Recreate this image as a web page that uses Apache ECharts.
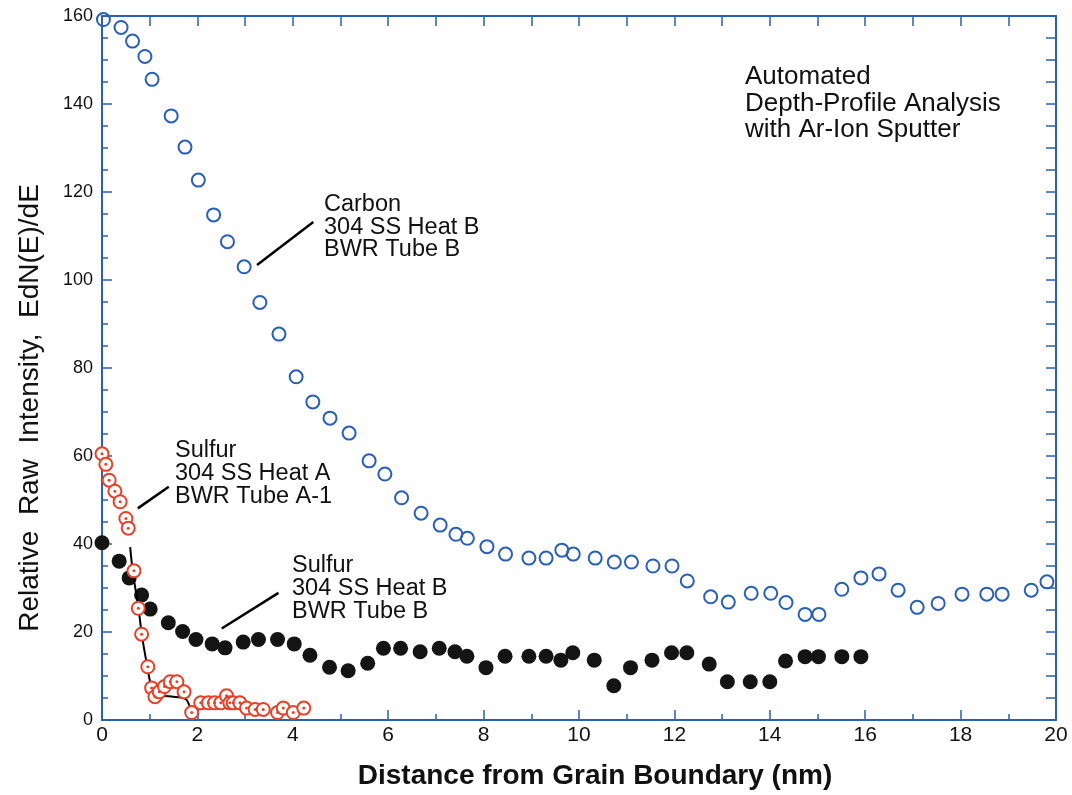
<!DOCTYPE html>
<html>
<head>
<meta charset="utf-8">
<title>Depth-Profile Analysis</title>
<script src="https://cdn.jsdelivr.net/npm/echarts@6/dist/echarts.min.js"></script>
<style>
    * { margin: 0; padding: 0; }
    #main { width: 1072px; height: 795px; background: #fff; }
</style>
</head>
<body>
<div id="main"></div>
<script type="text/javascript">
    // Carbon, 304 SS Heat B, BWR Tube B (open blue circles)
    var carbonX = [0.03, 0.40, 0.64, 0.90, 1.05, 1.45, 1.74, 2.02, 2.34, 2.63, 2.98, 3.31, 3.71, 4.07, 4.42,
        4.78, 5.18, 5.60, 5.93, 6.28, 6.69, 7.09, 7.42, 7.66, 8.07, 8.46, 8.95, 9.31, 9.64, 9.88,
        10.34, 10.74, 11.10, 11.55, 11.95, 12.27, 12.76, 13.13, 13.61, 14.02, 14.34, 14.74, 15.03, 15.51, 15.91,
        16.29, 16.69, 17.09, 17.53, 18.03, 18.55, 18.87, 19.48, 19.81];
    var carbonY = [159.2, 157.4, 154.3, 150.8, 145.6, 137.3, 130.2, 122.7, 114.8, 108.7, 103, 94.9, 87.7, 78, 72.3,
        68.6, 65.2, 58.9, 55.9, 50.5, 47, 44.3, 42.2, 41.3, 39.4, 37.7, 36.8, 36.8, 38.6, 37.7,
        36.8, 35.9, 35.9, 35, 35, 31.6, 28, 26.8, 28.8, 28.8, 26.7, 24, 24, 29.7, 32.3,
        33.2, 29.5, 25.6, 26.5, 28.6, 28.6, 28.6, 29.5, 31.4];

    // Sulfur, 304 SS Heat B, BWR Tube B (filled black dots)
    var sulfurBX = [0.0, 0.36, 0.57, 0.83, 1.01, 1.39, 1.69, 1.97, 2.31, 2.58, 2.96, 3.28, 3.68, 4.03, 4.36,
        4.77, 5.16, 5.57, 5.90, 6.26, 6.67, 7.07, 7.40, 7.65, 8.05, 8.45, 8.95, 9.31, 9.62, 9.87,
        10.32, 10.73, 11.08, 11.53, 11.94, 12.26, 12.73, 13.11, 13.59, 14.0, 14.33, 14.74, 15.02, 15.51, 15.91];
    var sulfurBY = [40.3, 36.1, 32.3, 28.4, 25.2, 22.1, 20.1, 18.3, 17.3, 16.4, 17.7, 18.3, 18.3, 17.3, 14.7,
        12, 11.2, 12.9, 16.3, 16.3, 15.5, 16.3, 15.5, 14.5, 11.9, 14.5, 14.5, 14.5, 13.6, 15.3,
        13.6, 7.8, 11.9, 13.6, 15.3, 15.3, 12.7, 8.7, 8.7, 8.7, 13.4, 14.4, 14.4, 14.4, 14.4];

    // Sulfur, 304 SS Heat A, BWR Tube A-1 (red dotted circles)
    var sulfurAX = [0.0, 0.08, 0.15, 0.27, 0.38, 0.5, 0.55, 0.67, 0.76, 0.83, 0.96, 1.04, 1.11, 1.2, 1.31,
        1.43, 1.57, 1.72, 1.88, 2.07, 2.23, 2.36, 2.49, 2.61, 2.68, 2.75, 2.89, 3.03, 3.21, 3.38,
        3.68, 3.8, 4.01, 4.23];
    var sulfurAY = [60.5, 58.1, 54.5, 52, 49.6, 45.8, 43.6, 33.9, 25.4, 19.5, 12.1, 7.3, 5.3, 6.4, 7.6,
        8.7, 8.7, 6.4, 1.7, 3.9, 3.9, 3.9, 3.9, 5.5, 3.9, 3.9, 3.9, 2.7, 2.4, 2.4,
        1.7, 2.7, 1.7, 2.7];

    // hand drawn curve through the Heat A sulfur drop
    var fitX = [0.59, 0.65, 0.76, 0.84, 0.95, 1.02, 1.15, 1.4, 1.7, 1.78, 1.88];
    var fitY = [39.3, 33.3, 25.8, 19, 12.1, 8.3, 5.6, 5.4, 5, 4.5, 1.9];

    // label leader lines (from, to)
    var leaderCarbon = [[3.25, 103.4], [4.43, 113.2]];
    var leaderSulfurA = [[0.75, 48.1], [1.40, 53]];
    var leaderSulfurB = [[2.51, 20.8], [3.70, 28.9]];

    var xTicks = [0, 2, 4, 6, 8, 10, 12, 14, 16, 18, 20];
    var yTicks = [0, 20, 40, 60, 80, 100, 120, 140, 160];

    function pairs(xs, ys) {
        return xs.map(function (x, i) { return [x, ys[i]]; });
    }

    var blue = '#2b60b4';
    var font = "'Liberation Sans', Arial, Helvetica, sans-serif";
    var tickStyle = { color: blue, width: 1.5 };

    var myChart = echarts.init(document.getElementById('main'));

    function leader(pts) {
        return {
            type: 'line', data: pts, symbol: 'none', silent: true, z: 7,
            lineStyle: { color: '#000', width: 2.5 }
        };
    }

    option = {
        backgroundColor: '#fff',
        animation: false,
        grid: { left: 102, right: 16, top: 16, bottom: 75 },
        xAxis: [{
            type: 'value', position: 'bottom', min: xTicks[0], max: xTicks[xTicks.length - 1], interval: 2,
            axisLine: { onZero: false, lineStyle: { color: blue, width: 2 } },
            axisTick: { inside: true, length: 10, lineStyle: tickStyle },
            minorTick: { show: true, splitNumber: 2, length: 6, lineStyle: tickStyle },
            splitLine: { show: false },
            axisLabel: { color: '#111', fontSize: 21, fontFamily: font, margin: 5 }
        }, {
            type: 'value', position: 'top', min: 0, max: 20, interval: 1,
            axisLine: { onZero: false, lineStyle: { color: blue, width: 2 } },
            axisTick: { inside: true, length: 10, lineStyle: tickStyle },
            splitLine: { show: false },
            axisLabel: { show: false }
        }],
        yAxis: [{
            type: 'value', position: 'left', min: yTicks[0], max: yTicks[yTicks.length - 1], interval: 20,
            axisLine: { show: true, onZero: false, lineStyle: { color: blue, width: 2 } },
            axisTick: { show: true, inside: true, length: 10, lineStyle: tickStyle },
            minorTick: { show: true, splitNumber: 4, length: 6, lineStyle: tickStyle },
            splitLine: { show: false },
            axisLabel: { color: '#111', fontSize: 18, fontFamily: font, margin: 9 }
        }, {
            type: 'value', position: 'right', min: 0, max: 160, interval: 5,
            axisLine: { show: true, onZero: false, lineStyle: { color: blue, width: 2 } },
            axisTick: { show: true, inside: true, length: 10, lineStyle: tickStyle },
            splitLine: { show: false },
            axisLabel: { show: false }
        }],
        graphic: [
            {
                type: 'text', left: 745, top: 64,
                style: { text: 'Automated\nDepth-Profile Analysis\nwith Ar-Ion Sputter', fill: '#111',
                    font: '26px ' + font, lineHeight: 26.5 }
            },
            {
                type: 'text', left: 324, top: 193,
                style: { text: 'Carbon\n304 SS Heat B\nBWR Tube B', fill: '#111', font: '23.5px ' + font, lineHeight: 22.5 }
            },
            {
                type: 'text', left: 175, top: 439,
                style: { text: 'Sulfur\n304 SS Heat A\nBWR Tube A-1', fill: '#111', font: '23.5px ' + font, lineHeight: 23 }
            },
            {
                type: 'text', left: 292, top: 554,
                style: { text: 'Sulfur\n304 SS Heat B\nBWR Tube B', fill: '#111', font: '23.5px ' + font, lineHeight: 23 }
            },
            {
                type: 'text', x: 30, y: 408, rotation: Math.PI / 2,
                style: { text: 'Relative  Raw  Intensity,  EdN(E)/dE', fill: '#111', font: '28px ' + font,
                    align: 'center', verticalAlign: 'middle' }
            },
            {
                type: 'text', x: 595, y: 776,
                style: { text: 'Distance from Grain Boundary (nm)', fill: '#111', font: 'bold 28px ' + font,
                    align: 'center', verticalAlign: 'middle' }
            }
        ],
        series: [
            {
                name: 'Sulfur Heat B', type: 'scatter', z: 2,
                data: pairs(sulfurBX, sulfurBY),
                symbol: 'circle', symbolSize: 15,
                itemStyle: { color: '#141414', opacity: 1 }
            },
            {
                name: 'Carbon', type: 'scatter', z: 3,
                data: pairs(carbonX, carbonY),
                symbol: 'circle', symbolSize: 13,
                itemStyle: { color: 'rgba(255,255,255,0)', borderColor: '#2a5fb6', borderWidth: 2, opacity: 1 }
            },
            {
                name: 'fit', type: 'line', z: 4, silent: true,
                data: pairs(fitX, fitY), symbol: 'none', smooth: 0.3,
                lineStyle: { color: '#000', width: 2 }
            },
            {
                name: 'Sulfur Heat A', type: 'scatter', z: 5,
                data: pairs(sulfurAX, sulfurAY),
                symbol: 'circle', symbolSize: 13,
                itemStyle: { color: '#fff', borderColor: '#e8412a', borderWidth: 2, opacity: 1 }
            },
            {
                name: 'Sulfur Heat A dot', type: 'scatter', z: 6,
                data: pairs(sulfurAX, sulfurAY),
                symbol: 'circle', symbolSize: 3,
                itemStyle: { color: '#e8412a', opacity: 1 }
            },
            leader(leaderCarbon),
            leader(leaderSulfurA),
            leader(leaderSulfurB)
        ]
    };

    myChart.setOption(option);
</script>
</body>
</html>
